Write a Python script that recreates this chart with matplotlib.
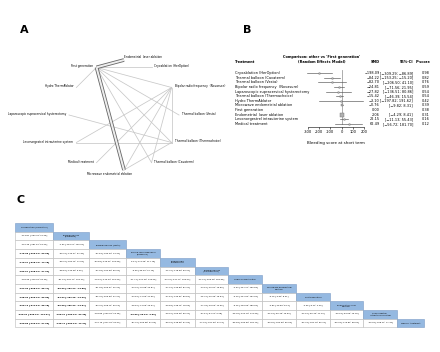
import numpy as np
import matplotlib.pyplot as plt
from matplotlib.patches import Rectangle
from matplotlib.transforms import blended_transform_factory

# ---- data ----
treatments = ["Cryoablation (HerOption)", "Thermal balloon (Cavaterm)", "Thermal balloon (Vesta)",
              "Bipolar radio frequency  (Novasure)", "Laparoscopic supracervical hysterectomy",
              "Thermal balloon (Thermachoice)", "Hydro ThermAblator", "Microwave endometrial ablation",
              "First generation", "Endometrial  laser ablation", "Levonorgestrel intrauterine system",
              "Medical treatment"]
smd = [-198.09, -84.22, -82.70, -24.81, -27.82, -15.42, -3.10, -0.76, 0.00, 2.06, 22.15, 62.49]
ci_lo = [-309.29, -153.25, -206.50, -71.56, -136.51, -46.39, -197.82, -9.82, np.nan, -4.29, -11.13, -56.72]
ci_hi = [-86.89, -15.20, 41.10, 21.95, 80.86, 15.54, 191.62, 8.31, np.nan, 8.41, 55.43, 181.70]
pscore = [0.98, 0.82, 0.76, 0.59, 0.54, 0.54, 0.42, 0.39, 0.38, 0.31, 0.16, 0.12]

# network: nodes in circle order (clockwise from top), edges = (a, b, n studies)
net_nodes = ["Endometrial  laser ablation", "Cryoablation (HerOption)", "Bipolar radio frequency  (Novasure)",
             "Thermal balloon (Vesta)", "Thermal balloon (Thermachoice)", "Thermal balloon (Cavaterm)",
             "Microwave endometrial ablation", "Medical treatment", "Levonorgestrel intrauterine system",
             "Laparoscopic supracervical hysterectomy", "Hydro ThermAblator", "First generation"]
edges = [(11, 0, 4), (11, 6, 4), (11, 1, 1), (11, 10, 1), (11, 2, 1), (11, 3, 1), (11, 4, 1),
         (11, 5, 1), (2, 8, 1), (2, 7, 1), (2, 6, 1), (2, 4, 1), (2, 5, 1), (9, 4, 1), (8, 4, 1),
         (4, 6, 1)]

# league table (row treatment vs column treatment): (estimate, lower, upper)
diag_labels = ["Cryoablation (HerOption)", "Thermal balloon\n(Cavaterm)", "Thermal balloon (Vesta)",
               "Bipolar radio frequency\n(Novasure)", "Laparoscopic\nsupracervical",
               "Thermal balloon\n(Thermachoice)", "Hydro ThermAblator", "Microwave endometrial\nablation",
               "First generation", "Endometrial laser\nablation", "Levonorgestrel\nintrauterine system",
               "Medical treatment"]
league = [
    [],
    [(-113.87, -254.79, 27.05)],
    [(-115.39, -281.80, 51.02), (-1.52, -143.27, 140.22)],
    [(-173.28, -293.91, -52.66), (-59.41, -140.27, 21.45), (-57.89, -190.23, 74.44)],
    [(-170.27, -325.76, -14.78), (-56.40, -184.75, 71.95), (-54.88, -219.42, 109.66), (3.01, -111.08, 117.10)],
    [(-182.67, -298.30, -67.04), (-68.80, -143.06, 5.46), (-67.28, -194.90, 60.34), (-9.39, -55.90, 37.12),
     (-12.40, -118.50, 93.70)],
    [(-194.99, -419.33, 29.36), (-81.12, -287.72, 125.47), (-79.60, -310.24, 151.04), (-21.71, -221.46, 178.04),
     (-24.72, -247.72, 198.27), (-12.32, -209.46, 184.82)],
    [(-197.33, -308.90, -85.77), (-83.46, -153.04, -13.88), (-81.94, -206.07, 42.19), (-24.05, -70.98, 22.87),
     (-27.06, -135.83, 81.70), (-14.66, -45.91, 16.59), (-2.34, -197.27, 192.59)],
    [(-198.09, -309.29, -86.89), (-84.22, -153.25, -15.20), (-82.70, -206.50, 41.10), (-24.81, -71.56, 21.95),
     (-27.82, -136.51, 80.86), (-15.42, -46.39, 15.54), (-3.10, -197.82, 191.62), (-0.76, -9.82, 8.31)],
    [(-200.15, -311.53, -88.78), (-86.28, -155.60, -16.97), (-84.76, -208.75, 39.23), (-26.87, -74.05, 20.31),
     (-29.88, -138.75, 78.98), (-17.48, -49.03, 14.06), (-5.16, -199.96, 189.65), (-2.82, -13.88, 8.24),
     (-2.06, -8.41, 4.29)],
    [(-220.24, -336.21, -104.27), (-106.37, -182.31, -30.43), (-104.85, -233.04, 23.35), (-46.96, -93.62, -0.30),
     (-49.97, -159.06, 59.12), (-37.57, -81.21, 6.08), (-25.25, -222.79, 172.29), (-22.91, -56.45, 10.63),
     (-22.15, -55.43, 11.13), (-20.09, -53.96, 13.78)],
    [(-260.58, -423.60, -97.56), (-146.71, -282.96, -10.47), (-145.19, -317.04, 26.67), (-87.30, -206.58, 31.98),
     (-90.31, -248.56, 67.93), (-77.91, -197.03, 41.21), (-65.59, -293.90, 162.72), (-63.25, -182.53, 56.03),
     (-62.49, -181.70, 56.72), (-60.43, -179.81, 58.95), (-40.34, -158.12, 77.44)],
]

fig = plt.figure(figsize=(4.4, 3.52), dpi=100)
base = fig.add_axes([0, 0, 1, 1])
base.set_xlim(0, 440); base.set_ylim(352, 0); base.axis("off")

for lab, x, y in [("A", 24, 30), ("B", 247, 30), ("C", 21, 200)]:
    base.text(x, y, lab, fontsize=8, fontweight="bold", ha="center", va="center")

# ---- A: network graph ----
cx, cy, r = 124, 115, 55
ang = np.deg2rad(90 - 30 * np.arange(len(net_nodes)))
nx, ny = cx + r * np.cos(ang), cy - r * np.sin(ang)
for a, b, n in edges:
    if n > 1:
        base.plot([nx[a], nx[b]], [ny[a], ny[b]], color="#666666", lw=2.6, solid_capstyle="butt", zorder=2)
        base.plot([nx[a], nx[b]], [ny[a], ny[b]], color="#eeeeee", lw=1.4, solid_capstyle="butt", zorder=3)
    else:
        base.plot([nx[a], nx[b]], [ny[a], ny[b]], color="#c8c8c8", lw=0.55, zorder=1)
nfs = 2.1
for i, name in enumerate(net_nodes):
    c = np.cos(ang[i])
    if i == 0:
        base.text(nx[i], ny[i] - 1, name, fontsize=nfs, ha="left", va="bottom")
    elif i == 6:
        base.text(nx[i] - 14, ny[i] + 2, name, fontsize=nfs, ha="center", va="top")
    elif c > 0.1:
        base.text(nx[i] + 3, ny[i] - 1, name, fontsize=nfs, ha="left", va="center")
    else:
        base.text(nx[i] - 3, ny[i] - 1, name, fontsize=nfs, ha="right", va="center")

# ---- B: forest plot ----
fax = fig.add_axes([308 / 440, 1 - 127 / 352, 56 / 440, 57 / 352])
fax.set_xlim(-300, 200); fax.set_ylim(11.65, -0.65)
rows = np.arange(len(treatments))
fax.axvline(0, ymin=0.06, ymax=1, color="#a0a0a0", lw=0.6)
for i in rows:
    if np.isnan(ci_lo[i]):
        continue
    fax.plot([ci_lo[i], ci_hi[i]], [i, i], color="#555555", lw=0.45, clip_on=False)
    ms = min(max(37 / (ci_hi[i] - ci_lo[i]), 1.0), 3.2)
    fax.plot(smd[i], i, marker="s", ms=ms, mfc="#b0b0b0", mec="#707070", mew=0.3, clip_on=False)
for s in ["top", "right", "left"]:
    fax.spines[s].set_visible(False)
fax.spines["bottom"].set_linewidth(0.4)
fax.set_yticks([])
fax.set_xticks([-300, -200, -100, 0, 100, 200])
fax.set_xticklabels(["-300", "-200", "-100", "0", "100", "200"])
fax.tick_params(axis="x", labelsize=2.6, length=1.5, width=0.4, pad=1)
fax.patch.set_visible(False)

tr = blended_transform_factory(base.transData, fax.transData)
fs = 2.5
for i in rows:
    base.text(235, i, treatments[i], transform=tr, fontsize=fs, ha="left", va="center")
    base.text(379.5, i, f"{smd[i]:.2f}".replace("-", "\u2212"), transform=tr, fontsize=fs, ha="right", va="center")
    if not np.isnan(ci_lo[i]):
        ci = f"[{ci_lo[i]:.2f}; {ci_hi[i]:.2f}]".replace("-", "\u2212")
        base.text(413, i, ci, transform=tr, fontsize=fs, ha="right", va="center")
    base.text(430, i, f"{pscore[i]:.2f}", transform=tr, fontsize=fs, ha="right", va="center")
base.text(235, 62, "Treatment", fontsize=fs, fontweight="bold", ha="left", va="center")
base.text(322, 57, "Comparison: other vs 'First generation'", fontsize=fs, fontweight="bold", ha="center", va="center")
base.text(322, 62, "(Random Effects Model)", fontsize=fs, fontweight="bold", ha="center", va="center")
base.text(379.5, 62, "SMD", fontsize=fs, fontweight="bold", ha="right", va="center")
base.text(413, 62, "95%-CI", fontsize=fs, fontweight="bold", ha="right", va="center")
base.text(431, 62, "P-score", fontsize=fs, fontweight="bold", ha="right", va="center")
base.text(336, 143, "Bleeding score at short term", fontsize=2.9, ha="center", va="center")

# ---- C: league table ----
bounds = [15, 53, 89, 126, 160, 195, 228, 262, 296, 330, 363, 397, 424]
top, h = 223, 8.7
tfs = 1.55
for i in range(len(diag_labels)):
    y0 = top + i * h
    for j, (est, lo, hi) in enumerate(league[i]):
        base.add_patch(Rectangle((bounds[j], y0), bounds[j + 1] - bounds[j], h,
                                 facecolor="white", edgecolor="#b8b8b8", lw=0.4))
        sig = (lo > 0) or (hi < 0)
        base.text((bounds[j] + bounds[j + 1]) / 2, y0 + h / 2, f"{est:.2f} [{lo:.2f}; {hi:.2f}]",
                  fontsize=tfs, ha="center", va="center", fontweight="bold" if sig else "normal")
    base.add_patch(Rectangle((bounds[i], y0), bounds[i + 1] - bounds[i], h,
                             facecolor="#95b9e1", edgecolor="#7a9cc6", lw=0.4))
    base.text((bounds[i] + bounds[i + 1]) / 2, y0 + h / 2, diag_labels[i], fontsize=tfs,
              ha="center", va="center", linespacing=1.0)

fig.savefig("out.png", dpi=100)
